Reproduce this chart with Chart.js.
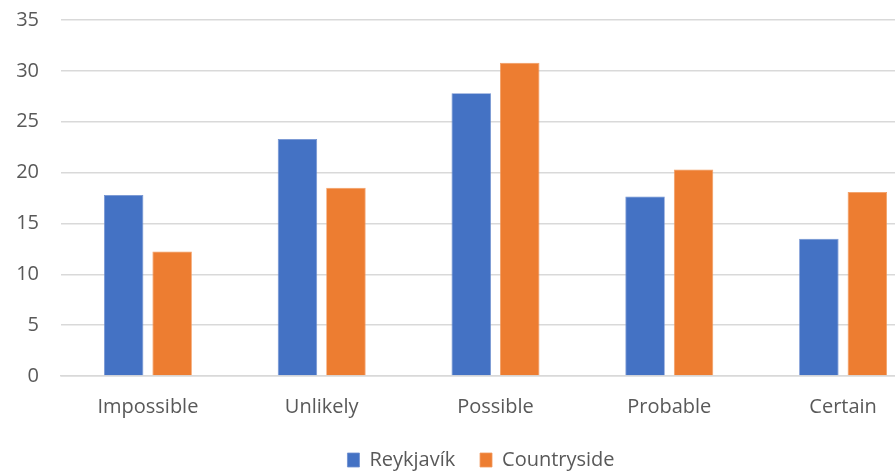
<!DOCTYPE html>
<html>
<head>
<meta charset="utf-8">
<script src="https://cdn.jsdelivr.net/npm/chart.js@4.4.1/dist/chart.umd.min.js"></script>
<style>
html,body{margin:0;padding:0;background:#fff;overflow:hidden;width:895px;height:474px;}
#wrap{position:absolute;left:0;top:0;width:962px;height:474px;}
</style>
</head>
<body>
<div id="wrap"><canvas id="c" width="962" height="474"></canvas></div>
<script>
const categories = ["Impossible", "Unlikely", "Possible", "Probable", "Certain"];
const reykjavik = [17.8, 23.3, 27.8, 17.65, 13.5];
const countryside = [12.25, 18.5, 30.8, 20.3, 18.1];
const seriesNames = ["Reykjavík", "Countryside"];
const yTicks = [0, 5, 10, 15, 20, 25, 30, 35];

const FONT = "'Open Sans', sans-serif";
const shiftLegend = {
  id: 'shiftLegend',
  afterLayout(chart) {
    if (chart.legend) { chart.legend.left += 11; chart.legend.right += 11; }
  }
};
new Chart(document.getElementById('c'), {
  type: 'bar',
  data: {
    labels: categories,
    datasets: [
      { label: seriesNames[0], data: reykjavik, backgroundColor: '#4472C4', borderColor: '#6E8FD0', borderWidth: 0.8 },
      { label: seriesNames[1], data: countryside, backgroundColor: '#ED7D31', borderColor: '#F29A5E', borderWidth: 0.8 }
    ]
  },
  plugins: [shiftLegend],
  options: {
    responsive: false,
    animation: false,
    devicePixelRatio: 1,
    datasets: { bar: { categoryPercentage: 0.558, barPercentage: 0.814 } },
    layout: { padding: { top: 20, right: 32, left: 10, bottom: -6 } },
    plugins: {
      tooltip: { enabled: false },
      legend: {
        position: 'bottom',
        labels: {
          font: { family: FONT, size: 20 }, color: '#595959', boxWidth: 12, boxHeight: 14, padding: 4,
          generateLabels: (chart) => {
            const items = Chart.defaults.plugins.legend.labels.generateLabels(chart);
            items.forEach((it, i) => { if (i < items.length - 1) it.text = it.text + '    '; });
            return items;
          }
        }
      }
    },
    scales: {
      x: {
        grid: { display: false, drawTicks: false },
        border: { display: true, color: '#D9D9D9', width: 1.5 },
        ticks: { font: { family: FONT, size: 20 }, color: '#595959', padding: 19 },
        afterFit: (s) => { s.height += 8; }
      },
      y: {
        min: 0, max: 35,
        afterBuildTicks: (s) => { s.ticks = yTicks.map(v => ({ value: v })); },
        afterFit: (s) => { s.width = 51; s.paddingTop = 0; s.paddingBottom = 0; },
        grid: { color: '#D9D9D9', lineWidth: 1.5, drawTicks: false },
        border: { display: false },
        ticks: { font: { family: FONT, size: 20 }, color: '#595959', padding: 22 }
      }
    }
  }
});
</script>
</body>
</html>
